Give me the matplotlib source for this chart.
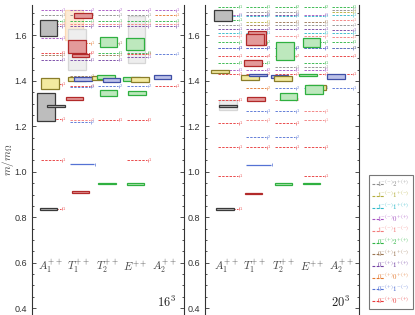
import matplotlib as mpl
mpl.use('Agg')
import matplotlib.pyplot as plt
from matplotlib.patches import Rectangle
from matplotlib.lines import Line2D
from matplotlib.ticker import MultipleLocator

plt.rcParams['mathtext.fontset'] = 'cm'
plt.rcParams['font.family'] = ['Liberation Sans', 'DejaVu Sans']

channels = [r'$A_1^{++}$', r'$T_1^{++}$', r'$T_2^{++}$', r'$E^{++}$', r'$A_2^{++}$']
volumes = [r'$16^3$', r'$20^3$']

# legend (non-interacting two-meson levels)
legend_keys = ['g2', 'ol', 'cy', 'pu', 'pk', 'gr', 'tn', 'vi', 'or', 'bl', 'rd']
legend_labels = [r'$1^{-(-)}2^{+(+)}$', r'$1^{-(-)}1^{+(-)}$', r'$1^{-(-)}1^{+(+)}$',
                 r'$1^{-(-)}0^{+(+)}$', r'$1^{-(-)}1^{-(-)}$', r'$0^{-(+)}2^{+(+)}$',
                 r'$0^{-(+)}1^{+(-)}$', r'$0^{-(+)}1^{+(+)}$', r'$0^{-(+)}0^{+(+)}$',
                 r'$0^{-(+)}1^{-(-)}$', r'$0^{-(+)}0^{-(+)}$']

# lattice levels: (channel, m/m_Omega, half error, kind)
box16 = [(0, 1.631, 0.035, 'k'), (0, 1.387, 0.024, 'y'), (0, 1.284, 0.062, 'k'),
         (0, 1.290, 0.004, 'k'), (0, 0.837, 0.003, 'k'),
         (1, 1.644, 0.066, 'fo'), (1, 1.538, 0.092, 'fg'), (1, 1.686, 0.011, 'r'),
         (1, 1.551, 0.030, 'r'), (1, 1.512, 0.006, 'r'), (1, 1.409, 0.010, 'y'),
         (1, 1.409, 0.008, 'b'), (1, 1.322, 0.006, 'r'), (1, 0.911, 0.003, 'r'),
         (2, 1.571, 0.020, 'g'), (2, 1.412, 0.009, 'y'), (2, 1.416, 0.008, 'g'),
         (2, 1.405, 0.008, 'b'), (2, 1.345, 0.013, 'g'), (2, 0.949, 0.003, 'g'),
         (3, 1.582, 0.105, 'fg'), (3, 1.562, 0.025, 'g'), (3, 1.408, 0.008, 'g'),
         (3, 1.408, 0.011, 'y'), (3, 1.348, 0.009, 'g'), (3, 0.946, 0.003, 'g'),
         (4, 1.418, 0.010, 'b')]
shift16 = [-0.05, 0.0, -0.14, 0.2, -0.05,
           -0.16, -0.05, 0.16, -0.05, 0.07, -0.05, 0.16, -0.14, 0.07,
           0.05, -0.23, -0.03, 0.16, 0.05, 0.0,
           0.03, -0.03, -0.14, 0.16, 0.05, 0.0,
           -0.05]

box20 = [(0, 1.688, 0.026, 'k'), (0, 1.441, 0.008, 'y'), (0, 1.292, 0.022, 'fg'),
         (0, 1.290, 0.003, 'k'), (0, 0.837, 0.003, 'k'),
         (1, 1.590, 0.030, 'r'), (1, 1.583, 0.025, 'r'), (1, 1.479, 0.015, 'r'),
         (1, 1.416, 0.012, 'y'), (1, 1.425, 0.005, 'b'), (1, 1.320, 0.009, 'r'),
         (1, 0.904, 0.003, 'r'),
         (2, 1.530, 0.040, 'g'), (2, 1.420, 0.006, 'b'), (2, 1.410, 0.012, 'y'),
         (2, 1.330, 0.015, 'g'), (2, 0.946, 0.003, 'g'),
         (3, 1.568, 0.020, 'g'), (3, 1.425, 0.005, 'g'), (3, 1.372, 0.010, 'y'),
         (3, 1.363, 0.020, 'g'), (3, 0.950, 0.003, 'g'),
         (4, 1.420, 0.010, 'b')]
shift20 = [-0.1, -0.23, 0.05, 0.05, -0.05,
           0.07, 0.0, -0.07, -0.16, 0.12, 0.03, -0.05,
           0.05, -0.14, -0.03, 0.17, 0.0,
           -0.03, -0.14, 0.16, 0.07, -0.03,
           -0.16]

# non-interacting levels: (channel, m/m_Omega, kind, degeneracy)
lev16 = [(0, 1.710, 'pu', 1), (0, 1.688, 'g2', 1), (0, 1.664, 'gr', 1), (0, 1.650, 'pk', 2),
         (0, 1.640, 'vi', 1), (0, 1.588, 'pu', 1), (0, 1.525, 'rd', 1), (0, 1.512, 'tn', 1),
         (0, 1.493, 'vi', 1), (0, 1.385, 'rd', 1), (0, 1.231, 'rd', 1), (0, 1.050, 'rd', 1),
         (0, 0.838, 'rd', 1),
         (1, 1.710, 'pu', 2), (1, 1.688, 'g2', 1), (1, 1.664, 'gr', 1), (1, 1.650, 'pk', 2),
         (1, 1.640, 'vi', 2), (1, 1.565, 'or', 1), (1, 1.525, 'rd', 2), (1, 1.493, 'vi', 1),
         (1, 1.420, 'tn', 1), (1, 1.378, 'rd', 1), (1, 1.374, 'bl', 2), (1, 1.228, 'pk', 2),
         (1, 1.218, 'bl', 2),
         (2, 1.710, 'pu', 2), (2, 1.688, 'g2', 1), (2, 1.664, 'gr', 1), (2, 1.650, 'pk', 1),
         (2, 1.640, 'vi', 1), (2, 1.565, 'tn', 1), (2, 1.525, 'gr', 1), (2, 1.512, 'tn', 1),
         (2, 1.493, 'vi', 1), (2, 1.376, 'bl', 2), (2, 1.230, 'rd', 1),
         (3, 1.710, 'pu', 1), (3, 1.688, 'g2', 1), (3, 1.664, 'gr', 1), (3, 1.650, 'pk', 1),
         (3, 1.640, 'vi', 1), (3, 1.525, 'gr', 1), (3, 1.518, 'rd', 1), (3, 1.505, 'vi', 1),
         (3, 1.378, 'bl', 2), (3, 1.230, 'rd', 1), (3, 1.050, 'rd', 1),
         (4, 1.710, 'pu', 1), (4, 1.690, 'or', 1), (4, 1.664, 'gr', 1), (4, 1.650, 'pk', 1),
         (4, 1.640, 'vi', 1), (4, 1.518, 'bl', 1), (4, 1.378, 'rd', 1)]

lev20 = [(0, 1.726, 'gr', 1), (0, 1.692, 'pu', 1), (0, 1.685, 'cy', 1), (0, 1.668, 'gr', 1),
         (0, 1.646, 'g2', 1), (0, 1.628, 'vi', 1), (0, 1.612, 'cy', 1), (0, 1.596, 'pk', 1),
         (0, 1.570, 'gr', 1), (0, 1.546, 'vi', 1), (0, 1.543, 'bl', 1), (0, 1.510, 'rd', 1),
         (0, 1.480, 'gr', 1), (0, 1.450, 'pu', 1), (0, 1.430, 'rd', 1), (0, 1.318, 'rd', 1),
         (0, 1.213, 'rd', 1), (0, 1.108, 'rd', 1), (0, 0.982, 'rd', 1), (0, 0.838, 'rd', 1),
         (1, 1.726, 'gr', 1), (1, 1.705, 'g2', 2), (1, 1.692, 'vi', 2), (1, 1.685, 'cy', 2),
         (1, 1.660, 'ol', 1), (1, 1.646, 'tn', 2), (1, 1.628, 'vi', 3), (1, 1.612, 'cy', 1),
         (1, 1.570, 'gr', 2), (1, 1.546, 'vi', 3), (1, 1.543, 'bl', 2), (1, 1.510, 'rd', 4),
         (1, 1.480, 'gr', 1), (1, 1.450, 'pu', 2), (1, 1.430, 'rd', 2), (1, 1.367, 'or', 2),
         (1, 1.267, 'bl', 1), (1, 1.227, 'pk', 1), (1, 1.152, 'bl', 2), (1, 1.108, 'rd', 1),
         (2, 1.726, 'gr', 2), (2, 1.705, 'g2', 1), (2, 1.692, 'vi', 2), (2, 1.685, 'cy', 1),
         (2, 1.660, 'tn', 1), (2, 1.646, 'g2', 3), (2, 1.628, 'vi', 2), (2, 1.596, 'pk', 1),
         (2, 1.546, 'vi', 2), (2, 1.543, 'bl', 1), (2, 1.510, 'rd', 2), (2, 1.460, 'g2', 1),
         (2, 1.450, 'pu', 1), (2, 1.430, 'rd', 1), (2, 1.367, 'bl', 2), (2, 1.318, 'pk', 1),
         (2, 1.267, 'bl', 1), (2, 1.213, 'rd', 1), (2, 1.152, 'bl', 2), (2, 1.108, 'rd', 1),
         (3, 1.726, 'gr', 2), (3, 1.692, 'pu', 1), (3, 1.685, 'cy', 1), (3, 1.660, 'tn', 1),
         (3, 1.646, 'g2', 1), (3, 1.628, 'vi', 1), (3, 1.612, 'cy', 1), (3, 1.596, 'pk', 1),
         (3, 1.570, 'gr', 1), (3, 1.546, 'vi', 1), (3, 1.543, 'bl', 1), (3, 1.510, 'rd', 1),
         (3, 1.480, 'gr', 1), (3, 1.460, 'g2', 1), (3, 1.450, 'pu', 1), (3, 1.430, 'rd', 1),
         (3, 1.367, 'bl', 1), (3, 1.267, 'pk', 1), (3, 1.227, 'pk', 1), (3, 1.108, 'rd', 1),
         (3, 0.982, 'rd', 1),
         (4, 1.726, 'gr', 1), (4, 1.714, 'g2', 1), (4, 1.702, 'ol', 1), (4, 1.688, 'cy', 1),
         (4, 1.668, 'pk', 1), (4, 1.646, 'g2', 1), (4, 1.622, 'vi', 1), (4, 1.610, 'cy', 1),
         (4, 1.595, 'pk', 1), (4, 1.573, 'gr', 1), (4, 1.546, 'tn', 1), (4, 1.543, 'bl', 1),
         (4, 1.510, 'rd', 1), (4, 1.430, 'rd', 1), (4, 1.367, 'bl', 1)]

# thin solid levels
solid16 = [(1, 1.033, 'bl')]
solid20 = [(1, 1.032, 'bl')]

line_col = {'g2': '#8c8c8c', 'ol': '#b4ae3c', 'cy': '#2fb9c9', 'pu': '#a552c2',
            'pk': '#f27c7c', 'gr': '#2fb545', 'tn': '#9a7552', 'vi': '#7342a3',
            'or': '#e3782f', 'bl': '#5472d4', 'rd': '#e8393a'}
box_style = {'k': ('#bdbdbd', '#3a3a3a', 4), 'y': ('#f3eaa0', '#8a7d2a', 5),
             'r': ('#e39a9a', '#b22a2a', 5), 'g': ('#bde8bd', '#2fb040', 5),
             'b': ('#bcc1e8', '#3f4fa6', 5), 'fo': ('#fdebd6', '#fbd9b5', 1),
             'fg': ('#eeeeee', '#d6d6d6', 1)}


def draw_panel(ax, boxes, shifts, levels, solid, vol, xlim, vol_x):
    for (ch, m, err, kind), dx in zip(boxes, shifts):
        fc, ec, z = box_style[kind]
        ax.add_patch(Rectangle((ch + dx - 0.31, m - err), 0.62, 2 * err,
                               facecolor=fc, edgecolor=ec, lw=0.9, zorder=z))
    for ch, m, kind, n in levels:
        c = line_col[kind]
        ax.hlines(m, ch - 0.3, ch + 0.4, colors=c, linestyles=(0, (2.5, 1.3)),
                  lw=0.7, alpha=0.9, zorder=2)
        ax.vlines(ch + 0.43, m - 0.006, m + 0.006, colors=c, lw=0.5, alpha=0.8, zorder=2)
        ax.text(ch + 0.46, m, str(n), color=c, fontsize=3, va='center', alpha=0.8)
    for ch, m, kind in solid:
        c = line_col[kind]
        ax.hlines(m, ch - 0.3, ch + 0.55, colors=c, lw=0.9, zorder=3)
        ax.vlines(ch + 0.58, m - 0.006, m + 0.006, colors=c, lw=0.5, zorder=3)
    for i, lab in enumerate(channels):
        ax.text(i, 0.58, lab, fontsize=8, ha='center', va='center', color='#444444')
    ax.text(vol_x, 0.423, vol, fontsize=9, ha='center', va='center', color='#222222')
    ax.set_xlim(*xlim)
    ax.set_ylim(0.37, 1.734)
    ax.set_xticks([])
    ax.yaxis.set_major_locator(MultipleLocator(0.2))
    ax.yaxis.set_minor_locator(MultipleLocator(0.05))
    ax.tick_params(axis='y', which='both', direction='in', right=True,
                   labelsize=6.5, colors='#333333', width=0.6)
    ax.tick_params(axis='y', which='major', length=3)
    ax.tick_params(axis='y', which='minor', length=1.5)
    ax.spines['top'].set_visible(False)
    ax.spines['bottom'].set_visible(False)
    for s in ['left', 'right']:
        ax.spines[s].set_color('#333333')
        ax.spines[s].set_linewidth(0.8)


fig = plt.figure(figsize=(4.15, 3.15), dpi=100)
ax1 = fig.add_axes([32 / 415, 0.0, 152 / 415, 310 / 315])
ax2 = fig.add_axes([205 / 415, 0.0, 154 / 415, 310 / 315])

draw_panel(ax1, box16, shift16, lev16, solid16, volumes[0], (-0.63, 4.70), 4.1)
draw_panel(ax2, box20, shift20, lev20, solid20, volumes[1], (-0.74, 4.63), 4.0)
ax1.set_ylabel(r'$m/m_\Omega$', fontsize=8, color='#444444')
ax1.yaxis.set_label_coords(-0.108, 0.5)

handles = [Line2D([], [], color=line_col[k], ls=(0, (2.5, 1.3)), lw=0.8) for k in legend_keys]
leg = fig.legend(handles, legend_labels, loc='lower left',
                 bbox_to_anchor=(369 / 415, 6 / 315, 44 / 415, 128 / 315), mode='expand',
                 fontsize=5, labelcolor='linecolor', frameon=True, fancybox=False,
                 handlelength=1.6, handletextpad=-1.0, labelspacing=0.22,
                 borderpad=0.5, borderaxespad=0.0)
leg.get_frame().set_edgecolor('#555555')
leg.get_frame().set_linewidth(0.8)

fig.savefig('out.png', dpi=100)
